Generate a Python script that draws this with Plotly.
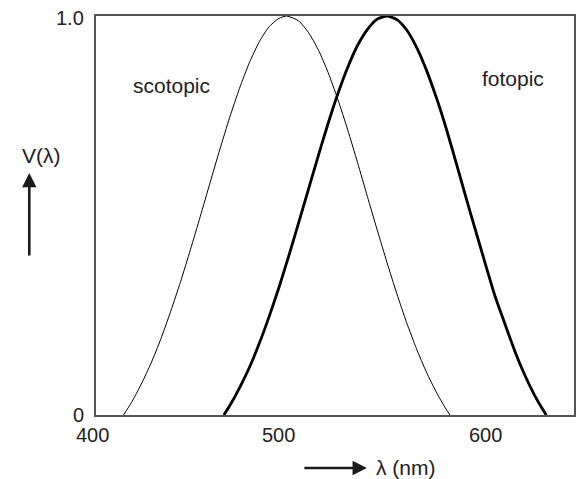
import plotly.graph_objects as go

# Scotopic curve (nm, relative sensitivity)
scot_x = [416, 420, 425, 430, 435, 440, 445, 450, 455, 460, 465, 470, 475, 480, 485, 490, 495, 499,
          505, 510, 515, 520, 525, 530, 535, 540, 545, 550, 555, 560, 565, 570, 575, 579, 582]
scot_y = [0.0, 0.031, 0.077, 0.130, 0.191, 0.260, 0.334, 0.414, 0.497, 0.582, 0.666, 0.746, 0.819,
          0.883, 0.935, 0.973, 0.994, 1.0,
          0.988, 0.959, 0.916, 0.859, 0.791, 0.715, 0.633, 0.548, 0.464, 0.382, 0.304, 0.231,
          0.166, 0.108, 0.058, 0.023, 0.0]

# Photopic ("fotopic") curve
foto_x = [467, 470, 475, 480, 485, 490, 495, 500, 505, 510, 515, 520, 525, 530, 535, 540, 545, 550,
          555, 560, 565, 570, 575, 580, 585, 590, 595, 600, 605, 610, 615, 620, 625, 628, 631]
foto_y = [0.0, 0.023, 0.068, 0.119, 0.179, 0.246, 0.319, 0.398, 0.481, 0.565, 0.649, 0.730, 0.805,
          0.871, 0.926, 0.966, 0.992, 1.0,
          0.991, 0.965, 0.922, 0.865, 0.797, 0.720, 0.635, 0.548, 0.463, 0.379, 0.297, 0.228,
          0.160, 0.101, 0.050, 0.024, 0.0]

x_ticks = [400, 500, 600]
x_tick_labels = ["400", "500", "600"]
y_ticks = [0.0, 1.0]
y_tick_labels = ["0", "1.0"]

X_RANGE = [402.0, 645.1]

FONT = "Liberation Sans, Arial, sans-serif"
TXT = "#222222"
FS = 20
FS_LBL = 21

fig = go.Figure()
fig.add_trace(go.Scatter(x=scot_x, y=scot_y, mode="lines",
                         line=dict(color="black", width=1, shape="spline", smoothing=0.6),
                         hoverinfo="skip", showlegend=False))
fig.add_trace(go.Scatter(x=foto_x, y=foto_y, mode="lines",
                         line=dict(color="black", width=2.8, shape="spline", smoothing=0.6),
                         hoverinfo="skip", showlegend=False))

W, H = 579, 479
L, R, T, B = 96, 3, 16, 64
pw, ph = W - L - R, H - T - B

def px(xp):
    return (xp - L) / pw

def py(yp):
    return (H - B - yp) / ph

def xdata_to_paper(v):
    return (v - X_RANGE[0]) / (X_RANGE[1] - X_RANGE[0])

label_nudge = {"500": -10}

ann = []
for v, t in zip(x_ticks, x_tick_labels):
    ann.append(dict(x=xdata_to_paper(v), xref="paper", y=py(435), yref="paper", text=t,
                    showarrow=False, xanchor="center", yanchor="middle",
                    xshift=label_nudge.get(t, 0),
                    font=dict(size=FS, color=TXT, family=FONT)))
for v, t in zip(y_ticks, y_tick_labels):
    ann.append(dict(x=px(86), xref="paper", y=v, yref="y", text=t, showarrow=False,
                    xanchor="right", yanchor="middle", yshift=-2 if v > 0.5 else 0,
                    font=dict(size=FS, color=TXT, family=FONT)))

ann.append(dict(x=px(131), xref="paper", y=py(85), yref="paper", text="scotopic", showarrow=False,
                xanchor="left", yanchor="middle", font=dict(size=FS_LBL, color=TXT, family=FONT)))
ann.append(dict(x=px(482), xref="paper", y=py(78), yref="paper", text="fotopic", showarrow=False,
                xanchor="left", yanchor="middle", font=dict(size=FS_LBL, color=TXT, family=FONT)))
ann.append(dict(x=px(41), xref="paper", y=py(155), yref="paper", text="V(λ)", showarrow=False,
                xanchor="center", yanchor="middle", font=dict(size=FS_LBL, color=TXT, family=FONT)))
ann.append(dict(x=px(375), xref="paper", y=py(467), yref="paper", text="λ (nm)", showarrow=False,
                xanchor="left", yanchor="middle", font=dict(size=FS_LBL, color=TXT, family=FONT)))
# vertical arrow
ann.append(dict(x=px(29), xref="paper", y=py(173), yref="paper", text="", showarrow=True,
                ax=0, ay=84, arrowhead=2, arrowsize=1.1, arrowwidth=2.6, arrowcolor="#1a1a1a"))
# horizontal arrow
ann.append(dict(x=px(368), xref="paper", y=py(468), yref="paper", text="", showarrow=True,
                ax=-64, ay=0, arrowhead=2, arrowsize=1.1, arrowwidth=2.6, arrowcolor="#1a1a1a"))

axis_common = dict(showgrid=False, zeroline=False, showticklabels=False, ticks="",
                   showline=True, mirror=True, linecolor="#555555", linewidth=1.5)

fig.update_layout(
    width=W, height=H,
    margin=dict(l=L, r=R, t=T, b=B, pad=0),
    paper_bgcolor="white", plot_bgcolor="white",
    xaxis=dict(range=X_RANGE, **axis_common),
    yaxis=dict(range=[0, 1], **axis_common),
    annotations=ann,
    showlegend=False,
)

fig.write_html("out.html")
